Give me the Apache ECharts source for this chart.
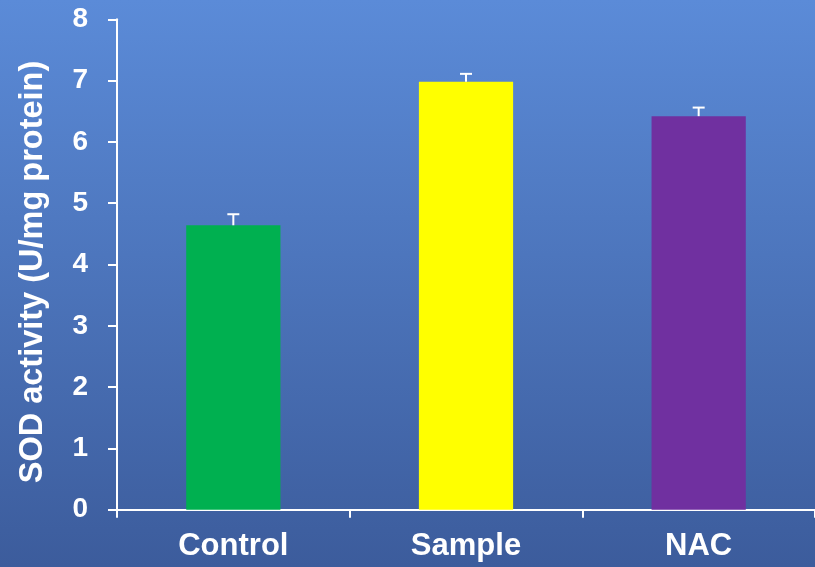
<!DOCTYPE html>
<html><head><meta charset="utf-8">
<script src="https://cdn.jsdelivr.net/npm/echarts@6/dist/echarts.min.js"></script>
<style>html,body{margin:0;padding:0;}#c{width:815px;height:567px;}</style>
</head><body><div id="c"></div>
<script>
const categories = ['Control', 'Sample', 'NAC'];
const values = [4.64, 6.98, 6.42];
const errors = [0.18, 0.13, 0.14];
const barColors = ['#00b050', '#ffff00', '#7030a0'];
const yTicks = [0, 1, 2, 3, 4, 5, 6, 7, 8];
const yTitle = 'SOD activity (U/mg protein)';

const chart = echarts.init(document.getElementById('c'));
const font = '"Liberation Sans", Arial, sans-serif';
chart.setOption({
  backgroundColor: {
    type: 'linear', x: 0, y: 0, x2: 0, y2: 1,
    colorStops: [{offset: 0, color: '#5b8bd8'}, {offset: 1, color: '#3c5c9c'}]
  },
  animation: false,
  graphic: [{
    type: 'text', x: 33, y: 272, rotation: Math.PI / 2,
    style: {text: yTitle, fill: '#ffffff', font: 'bold 32.5px ' + font, textAlign: 'center', textVerticalAlign: 'middle'}
  }],
  grid: {left: 117, right: 0, top: 19.3, bottom: 57.3},
  xAxis: {
    type: 'category', data: categories,
    axisLine: {lineStyle: {color: '#ffffff', width: 2}},
    axisTick: {show: true, length: 8, lineStyle: {color: '#ffffff', width: 2}},
    axisLabel: {color: '#ffffff', fontFamily: font, fontWeight: 'bold', fontSize: 31, margin: 21}
  },
  yAxis: {
    type: 'value', min: yTicks[0], max: yTicks[yTicks.length - 1], interval: 1,
    splitLine: {show: false},
    axisLine: {show: true, lineStyle: {color: '#ffffff', width: 2}},
    axisTick: {show: true, length: 9, lineStyle: {color: '#ffffff', width: 2}},
    axisLabel: {color: '#ffffff', fontFamily: font, fontWeight: 'bold', fontSize: 28, margin: 29}
  },
  series: [
    {
      type: 'bar', barWidth: '40.5%',
      data: values.map((v, i) => ({value: v, itemStyle: {color: barColors[i]}}))
    },
    {
      type: 'custom',
      data: values.map((v, i) => [i, v, v + errors[i]]),
      renderItem: function (params, api) {
        const base = api.coord([api.value(0), api.value(1)]);
        const top = api.coord([api.value(0), api.value(2)]);
        const hw = 6;
        return {
          type: 'group',
          children: [
            {type: 'line', shape: {x1: base[0], y1: base[1], x2: top[0], y2: top[1]}, style: {stroke: '#ffffff', lineWidth: 2}},
            {type: 'line', shape: {x1: top[0] - hw, y1: top[1], x2: top[0] + hw, y2: top[1]}, style: {stroke: '#ffffff', lineWidth: 2}}
          ]
        };
      },
      z: 5
    }
  ]
});
</script>
</body></html>
